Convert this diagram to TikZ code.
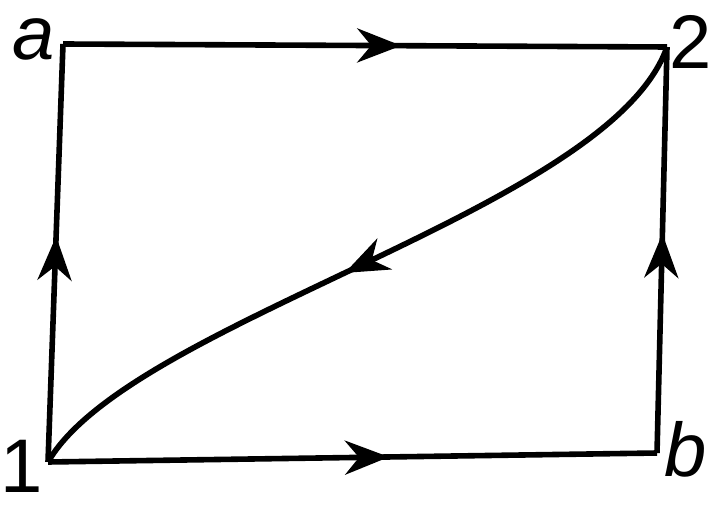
\documentclass[tikz,border=0pt]{standalone}
\usepackage{fontspec}
\setmainfont{Liberation Sans}
\usetikzlibrary{arrows.meta,decorations.markings}

\begin{document}
\begin{tikzpicture}[x=0.5pt, y=-0.5pt, every node/.style={font=\fontsize{38}{38}\selectfont, inner sep=0pt}, side/.style={line width=2.8pt}, midarrow/.style={postaction={decorate}, decoration={markings, mark=at position #1 with {\arrow{Stealth[length=22pt,width=17pt,inset=7pt]}}}}]
	\useasboundingbox (0,0) rectangle (710,507);
	\coordinate (c1) at (48,462);
	\coordinate (ca) at (63,44);
	\coordinate (c2) at (667,47);
	\coordinate (cb) at (657,453);
	\node (la) at (34,39) {\textit{a}};
	\node (l2) at (691,42) {2};
	\node (l1) at (22,466) {1};
	\node (lb) at (686,449) {\textit{b}};
	\draw[side, midarrow=0.54] (c1) -- (ca);
	\draw[side, midarrow=0.56] (ca) -- (c2);
	\draw[side, midarrow=0.56] (c1) -- (cb);
	\draw[side, midarrow=0.54] (cb) -- (c2);
	\draw[side, midarrow=0.53] (c2) .. controls (610,210) and (130,320) .. (c1);
\end{tikzpicture}
\end{document}
